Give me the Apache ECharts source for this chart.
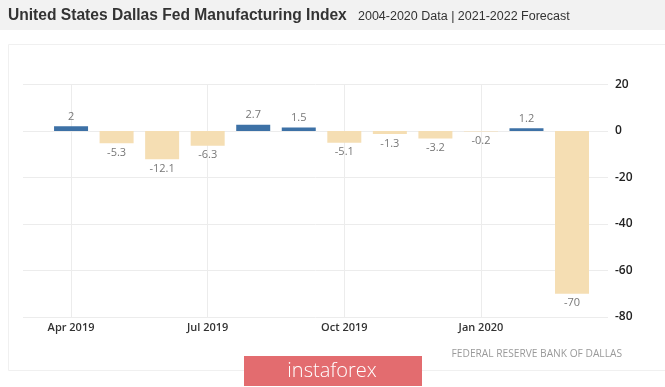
<!DOCTYPE html>
<html>
<head>
<meta charset="utf-8">
<script src="https://cdn.jsdelivr.net/npm/echarts@6/dist/echarts.min.js"></script>
<style>
html,body{margin:0;padding:0;background:#fff;}
#chart{width:665px;height:387px;}
</style>
</head>
<body>
<div id="chart"></div>
<script>
// ---- data ----
var months = ["2019-04","2019-05","2019-06","2019-07","2019-08","2019-09","2019-10","2019-11","2019-12","2020-01","2020-02","2020-03"];
var values = [2, -5.3, -12.1, -6.3, 2.7, 1.5, -5.1, -1.3, -3.2, -0.2, 1.2, -70];
var xTickMonths = ["2019-04","2019-07","2019-10","2020-01"];
var monthNames = ["Jan","Feb","Mar","Apr","May","Jun","Jul","Aug","Sep","Oct","Nov","Dec"];
var yTicks = [20, 0, -20, -40, -60, -80];
var titleText = "United States Dallas Fed Manufacturing Index";
var subtitleText = "2004-2020 Data | 2021-2022 Forecast";
var sourceText = "FEDERAL RESERVE BANK OF DALLAS";
var watermarkText = "instaforex";

// month index counted from Jan 2019 (0 = Jan 2019)
function toIdx(s){ var p = s.split('-'); return (+p[0] - 2019) * 12 + (+p[1] - 1); }
function idxLabel(v){ var y = 2019 + Math.floor(v / 12); var m = ((v % 12) + 12) % 12; return monthNames[m] + ' ' + y; }

var POS = '#3d71a6', NEG = '#f5deb3';
var chart = echarts.init(document.getElementById('chart'), null, {renderer:'canvas'});
var tickIdx = xTickMonths.map(toIdx);
var option = {
  animation: false,
  backgroundColor: '#fff',
  grid: {left: 23, right: 57, top: 84.5, bottom: 70, containLabel: false},
  xAxis: {
    type: 'value',
    min: 1.945,
    max: 14.79,
    axisLine: {show: false},
    axisTick: {show: false, customValues: tickIdx},
    splitLine: {show: true, lineStyle: {color: '#ececec', width: 1}},
    axisLabel: {
      customValues: tickIdx,
      margin: 5,
      color: '#333',
      fontFamily: 'Open Sans',
      fontWeight: 600,
      fontSize: 11,
      formatter: function(v){ return idxLabel(Math.round(v)); }
    }
  },
  yAxis: {
    type: 'value',
    position: 'right',
    min: yTicks[yTicks.length-1],
    max: yTicks[0],
    interval: 20,
    axisLine: {show: false},
    axisTick: {show: false},
    splitLine: {lineStyle: {color: '#ececec', width: 1}},
    axisLabel: {margin: 7, color: '#222', fontFamily: 'Open Sans', fontWeight: 600, fontSize: 12}
  },
  series: [{
    type: 'bar',
    barWidth: 34,
    data: months.map(function(m, i){
      var v = values[i];
      return {
        value: [toIdx(m), v],
        itemStyle: {color: v >= 0 ? POS : NEG},
        label: {position: v >= 0 ? 'top' : 'bottom'}
      };
    }),
    label: {
      show: true,
      distance: 4,
      color: '#777',
      fontFamily: 'Open Sans',
      fontSize: 11,
      formatter: function(p){ return String(p.value[1]); }
    }
  }],
  graphic: [
    {type: 'rect', shape: {x: 0, y: 0, width: 665, height: 30}, style: {fill: '#f2f2f2'}, z: -10},
    {type: 'rect', shape: {x: 8.5, y: 44.5, width: 670, height: 326}, style: {fill: 'none', stroke: '#f0f0f0', lineWidth: 1}, z: -10},
    {type: 'text', left: 8, top: 8, style: {text: titleText, font: 'bold 15.6px "Liberation Sans", Arial, sans-serif', fill: '#333'}},
    {type: 'text', left: 358, top: 10, style: {text: subtitleText, font: '12.5px "Liberation Sans", Arial, sans-serif', fill: '#333'}},
    {type: 'text', right: 43, top: 349, style: {text: sourceText, font: '10.2px "Open Sans", sans-serif', fill: '#9a9a9a'}},
    {type: 'rect', shape: {x: 244, y: 356, width: 178, height: 30}, style: {fill: '#e36c6f'}, z: 10},
    {type: 'text', x: 332, y: 371, style: {text: watermarkText, font: '300 20px "Open Sans", sans-serif', fill: '#fff', align: 'center', verticalAlign: 'middle'}, z: 11}
  ]
};
chart.setOption(option);
</script>
</body>
</html>
